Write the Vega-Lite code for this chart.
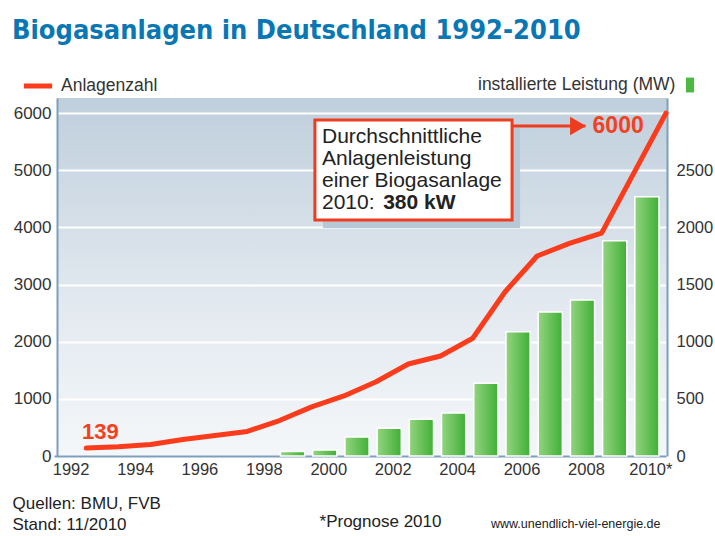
{
  "$schema": "https://vega.github.io/schema/vega-lite/v6.json",
  "width": 610,
  "height": 358,
  "autosize": "none",
  "padding": {"left": 57, "top": 98, "right": 48, "bottom": 80},
  "background": "white",
  "title": {
    "text": "Biogasanlagen in Deutschland 1992-2010",
    "anchor": "start",
    "frame": "group",
    "dx": -45,
    "offset": 3,
    "baseline": "alphabetic",
    "font": "DejaVu Sans Condensed",
    "fontSize": 27,
    "fontWeight": "bold",
    "color": "#0a77b5"
  },
  "datasets": {
    "anlagen": [
      {"jahr": 1992, "anlagen": 139},
      {"jahr": 1993, "anlagen": 160},
      {"jahr": 1994, "anlagen": 200},
      {"jahr": 1995, "anlagen": 290},
      {"jahr": 1996, "anlagen": 360},
      {"jahr": 1997, "anlagen": 430},
      {"jahr": 1998, "anlagen": 620},
      {"jahr": 1999, "anlagen": 860},
      {"jahr": 2000, "anlagen": 1050},
      {"jahr": 2001, "anlagen": 1300},
      {"jahr": 2002, "anlagen": 1610},
      {"jahr": 2003, "anlagen": 1750},
      {"jahr": 2004, "anlagen": 2060},
      {"jahr": 2005, "anlagen": 2870},
      {"jahr": 2006, "anlagen": 3500},
      {"jahr": 2007, "anlagen": 3720},
      {"jahr": 2008, "anlagen": 3900},
      {"jahr": 2009, "anlagen": 4950},
      {"jahr": 2010, "anlagen": 6000}
    ],
    "leistung": [
      {"jahr": 1999, "mw": 40},
      {"jahr": 2000, "mw": 52},
      {"jahr": 2001, "mw": 166},
      {"jahr": 2002, "mw": 242},
      {"jahr": 2003, "mw": 321},
      {"jahr": 2004, "mw": 376},
      {"jahr": 2005, "mw": 636},
      {"jahr": 2006, "mw": 1088},
      {"jahr": 2007, "mw": 1260},
      {"jahr": 2008, "mw": 1365},
      {"jahr": 2009, "mw": 1884},
      {"jahr": 2010, "mw": 2269}
    ]
  },
  "layer": [
    {
      "data": {"name": "leistung"},
      "layer": [
        {
          "mark": {
            "type": "bar",
            "fill": {"gradient": "linear", "x1": 0, "y1": 0, "x2": 1, "y2": 0,
              "stops": [{"offset": 0, "color": "#93d47f"}, {"offset": 1, "color": "#3fb037"}]},
            "stroke": "white",
            "strokeWidth": 1.5,
            "width": {"band": 0.75},
            "xOffset": -3
          },
          "encoding": {
            "x": {
              "field": "jahr",
              "type": "ordinal",
              "scale": {"type": "band", "domain": [1992,1993,1994,1995,1996,1997,1998,1999,2000,2001,2002,2003,2004,2005,2006,2007,2008,2009,2010], "range": [-3, 609], "paddingInner": 0, "paddingOuter": 0},
              "axis": {
                "title": "*Prognose 2010",
                "labelExpr": "datum.value == 2010 ? '2010*' : (datum.value % 2 == 0 ? datum.label : '')",
                "labelAngle": 0,
                "labelPadding": 5,
                "labelOffset": 1,
                "domain": true,
                "titleX": 323,
                "titleY": 70,
                "titleAnchor": null,
                "titleAlign": "center",
                "titleBaseline": "alphabetic",
                "titleFontSize": 17
              }
            },
            "y": {
              "field": "mw",
              "type": "quantitative",
              "scale": {"domain": [0, 3132], "nice": false},
              "axis": {
                "orient": "right",
                "values": [0, 500, 1000, 1500, 2000, 2500],
                "format": "d",
                "grid": false,
                "domain": true,
                "labelPadding": 9,
                "labelAlign": "left",
                "labelFontSize": 16.5,
                "title": "www.unendlich-viel-energie.de",
                "titleAngle": 0,
                "titleAlign": "right",
                "titleBaseline": "alphabetic",
                "titleX": -7,
                "titleY": 429,
                "titleFontSize": 12.5
              }
            }
          }
        },
        {
          "mark": {"type": "point", "shape": "square", "filled": true, "opacity": 0},
          "encoding": {
            "x": {"field": "jahr", "type": "ordinal"},
            "y": {"field": "mw", "type": "quantitative"},
            "fill": {
              "datum": "installierte Leistung (MW)",
              "scale": {"range": ["#4db843"]},
              "legend": {
                "orient": "none",
                "legendX": 421,
                "legendY": -21,
                "title": "installierte Leistung (MW)",
                "titleOrient": "left",
                "titleLimit": 0,
                "titleFontSize": 17.5,
                "titleFont": "Liberation Sans",
                "titleFontWeight": "normal",
                "titleColor": "#333",
                "titleBaseline": "middle",
                "titlePadding": 6,
                "labelExpr": "''",
                "labelLimit": 1,
                "symbolType": "M-0.55,-1H0.55V1H-0.55Z",
                "symbolSize": 220,
                "symbolOpacity": 1,
                "symbolStrokeWidth": 0
              }
            }
          }
        }
      ]
    },
    {
      "layer": [
        {
          "data": {"name": "anlagen"},
          "mark": {"type": "line", "strokeWidth": 5, "strokeJoin": "round", "strokeCap": "round"},
          "encoding": {
            "x": {"field": "jahr", "type": "ordinal", "bandPosition": 1},
            "y": {
              "field": "anlagen",
              "type": "quantitative",
              "scale": {"domain": [0, 6264], "nice": false},
              "axis": {
                "orient": "left",
                "values": [0, 1000, 2000, 3000, 4000, 5000, 6000],
                "format": "d",
                "grid": true,
                "domain": true,
                "gridColor": "white",
                "gridWidth": 2,
                "gridOpacity": 1,
                "labelPadding": 6,
                "labelFontSize": 17,
                "title": ["Quellen: BMU, FVB", "Stand: 11/2010"],
                "titleAngle": 0,
                "titleAlign": "left",
                "titleBaseline": "alphabetic",
                "titleX": -45,
                "titleY": 410,
                "titleFontSize": 17,
                "titleLineHeight": 21
              }
            },
            "stroke": {
              "datum": "Anlagenzahl",
              "scale": {"range": ["#fb3c1c"]},
              "legend": {
                "orient": "none",
                "legendX": -36,
                "legendY": -29,
                "title": null,
                "symbolType": "stroke",
                "symbolStrokeWidth": 5,
                "symbolSize": 800,
                "labelFontSize": 17.5,
                "labelFont": "Liberation Sans",
                "labelColor": "#333",
                "labelOffset": 6
              }
            }
          }
        },
        {
          "data": {"values": [{}]},
          "mark": {"type": "rect", "fill": "#b6c7d5", "xOffset": 8, "x2Offset": -1, "yOffset": 8, "y2Offset": 8},
          "encoding": {
            "x": {"datum": 2000, "type": "ordinal", "bandPosition": 0.1},
            "x2": {"datum": 2006},
            "y": {"datum": 5880, "type": "quantitative"},
            "y2": {"datum": 4130}
          }
        },
        {
          "data": {"values": [{}]},
          "mark": {"type": "rect", "fill": "white", "stroke": "#f03c1e", "strokeWidth": 3, "x2Offset": -9},
          "encoding": {
            "x": {"datum": 2000, "type": "ordinal", "bandPosition": 0.1},
            "x2": {"datum": 2006},
            "y": {"datum": 5880, "type": "quantitative"},
            "y2": {"datum": 4130}
          }
        },
        {
          "data": {"values": [{}]},
          "mark": {"type": "rule", "stroke": "#f03c1e", "strokeWidth": 3},
          "encoding": {
            "x": {"datum": 2006, "type": "ordinal", "bandPosition": 0.22},
            "x2": {"datum": 2008},
            "y": {"datum": 5774, "type": "quantitative"}
          }
        },
        {
          "data": {"values": [{}]},
          "mark": {"type": "point", "shape": "triangle-right", "filled": true, "fill": "#f03c1e", "opacity": 1, "size": 340, "strokeWidth": 0},
          "encoding": {
            "x": {"datum": 2008, "type": "ordinal", "bandPosition": 0.27},
            "y": {"datum": 5774, "type": "quantitative"}
          }
        },
        {
          "data": {"values": [{}]},
          "mark": {"type": "text", "text": ["Durchschnittliche", "Anlagenleistung", "einer Biogasanlage", "2010:"], "align": "left", "baseline": "alphabetic", "font": "Liberation Sans", "fontSize": 21, "lineHeight": 22, "color": "#222"},
          "encoding": {
            "x": {"datum": 2000, "type": "ordinal", "bandPosition": 0.32},
            "y": {"datum": 5477, "type": "quantitative"}
          }
        },
        {
          "data": {"values": [{}]},
          "mark": {"type": "text", "text": "380 kW", "align": "left", "baseline": "alphabetic", "font": "Liberation Sans", "fontSize": 21, "fontWeight": "bold", "color": "#222"},
          "encoding": {
            "x": {"datum": 2002, "type": "ordinal", "bandPosition": 0.22},
            "y": {"datum": 4322, "type": "quantitative"}
          }
        },
        {
          "data": {"values": [{"wert": "6000"}]},
          "mark": {"type": "text", "align": "left", "baseline": "alphabetic", "font": "Liberation Sans", "fontSize": 23, "fontWeight": "bold", "color": "#f5401e", "dx": -9},
          "encoding": {
            "text": {"field": "wert"},
            "x": {"datum": 2009, "type": "ordinal", "bandPosition": 0},
            "y": {"datum": 5652, "type": "quantitative"}
          }
        },
        {
          "data": {"values": [{"wert": "139"}]},
          "mark": {"type": "text", "align": "left", "baseline": "alphabetic", "font": "Liberation Sans", "fontSize": 22, "fontWeight": "bold", "color": "#f5401e"},
          "encoding": {
            "text": {"field": "wert"},
            "x": {"datum": 1992, "type": "ordinal", "bandPosition": 0.87},
            "y": {"datum": 297, "type": "quantitative"}
          }
        }
      ]
    }
  ],
  "resolve": {"scale": {"y": "independent"}},
  "config": {
    "view": {
      "stroke": null,
      "fill": {"gradient": "linear", "x1": 0, "y1": 0, "x2": 0, "y2": 1,
        "stops": [{"offset": 0, "color": "#bfcfdc"}, {"offset": 0.55, "color": "#e1e8ef"}, {"offset": 1, "color": "#f4f7f9"}]}
    },
    "axis": {
      "labelFont": "Liberation Sans",
      "labelFontSize": 16.5,
      "labelColor": "#333",
      "ticks": false,
      "domain": true,
      "domainColor": "#7d9fbb",
      "domainWidth": 2,
      "titleFont": "Liberation Sans",
      "titleFontWeight": "normal",
      "titleColor": "#222"
    },
    "legend": {
      "labelFont": "Liberation Sans",
      "labelFontSize": 16,
      "labelColor": "#333"
    }
  }
}
